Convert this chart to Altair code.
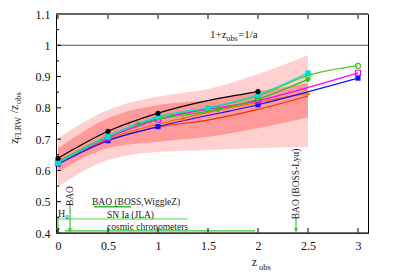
import altair as alt
import pandas as pd

# ---------------- data ----------------
band_x = [0, 0.5, 1, 1.5, 2, 2.5]
outer_lo = [0.548, 0.633, 0.659, 0.665, 0.672, 0.676]
outer_hi = [0.703, 0.793, 0.836, 0.860, 0.908, 0.968]
inner_lo = [0.596, 0.671, 0.692, 0.708, 0.735, 0.770]
inner_hi = [0.671, 0.767, 0.809, 0.825, 0.853, 0.879]

series = [
    # name, color, shape, filled, x, y
    ("red", "#ff2a00", None, True, [0, 0.5, 1, 1.5, 2, 2.5], [0.624, 0.697, 0.738, 0.761, 0.795, 0.838]),
    ("orange", "#ff6a00", "triangle-up", True, [0, 0.5, 1.25, 2.5], [0.630, 0.701, 0.767, 0.847]),
    ("blue", "#1010ff", "square", True, [0, 0.5, 1, 2, 3], [0.620, 0.695, 0.740, 0.810, 0.895]),
    ("magenta", "#ff00ff", "square", False, [0, 0.5, 1, 2, 3], [0.625, 0.705, 0.763, 0.823, 0.912]),
    ("green", "#22c322", "cross", True, [0, 0.5, 0.8, 1.6, 2, 2.5], [0.627, 0.710, 0.748, 0.795, 0.828, 0.891]),
    ("lime", "#44cc22", "circle", False, [0, 0.5, 1, 1.5, 2, 2.5, 3], [0.624, 0.707, 0.770, 0.799, 0.838, 0.904, 0.934]),
    ("cyan", "#00dede", "square", True, [0, 0.5, 1, 1.5, 2, 2.5], [0.625, 0.708, 0.772, 0.801, 0.842, 0.912]),
    ("black", "#000000", "circle", True, [0, 0.5, 1, 2], [0.639, 0.725, 0.783, 0.852]),
]

x_ticks = [0, 0.5, 1, 1.5, 2, 2.5, 3]
y_ticks = [0.4, 0.5, 0.6, 0.7, 0.8, 0.9, 1.0, 1.1]
y_minor = [0.45, 0.55, 0.65, 0.75, 0.85, 0.95, 1.05]

# probe annotations
range_labels = ["BAO (BOSS,WiggleZ)", "SN Ia (JLA)", "cosmic chronometers"]
range_x0 = [0.36, 0.0, 0.07]
range_x1 = [0.73, 1.30, 1.97]
range_y = [0.484, 0.445, 0.407]
range_col = ["#33bb33", "#a8eca8", "#33cc33"]
range_w = [1.6, 2.2, 1.2]
range_text_x = [0.34, 0.49, 0.49]
range_text_y = [0.488, 0.449, 0.409]

arrow_x = [0.0, 0.12, 2.38]
arrow_top = [0.452, 0.496, 0.448]
arrow_labels = ["H₀", "BAO", "BAO (BOSS-Lyα)"]
arrow_label_y = [0.462, 0.518, 0.557]

W, H = 312, 219
FONT = "Liberation Serif"
xs = alt.Scale(domain=[-0.02, 3.1], nice=False, zero=False)
ys = alt.Scale(domain=[0.4, 1.1], nice=False, zero=False)
xa = alt.Axis(values=x_ticks, format=".1~f", title=None, ticks=False, domain=False, grid=False,
              labelOverlap=False, labelPadding=7, labelFont=FONT, labelFontSize=12, labelColor="#111111")
ya = alt.Axis(values=y_ticks, format=".1~f", title=None, ticks=False, domain=False, grid=False,
              labelOverlap=False, labelPadding=6, labelFont=FONT, labelFontSize=12, labelColor="#111111")


def X(f):
    return alt.X(f, scale=xs, axis=xa)


def Y(f):
    return alt.Y(f, scale=ys, axis=ya)


bands = pd.DataFrame({"x": band_x, "olo": outer_lo, "ohi": outer_hi,
                      "ilo": inner_lo, "ihi": inner_hi})

outer = alt.Chart(bands).mark_area(color="#ffd0d0", interpolate="monotone").encode(
    x=X("x:Q"), y=Y("olo:Q"), y2="ohi:Q")
inner = alt.Chart(bands).mark_area(color="#ff9a9a", interpolate="monotone").encode(
    x=X("x:Q"), y=Y("ilo:Q"), y2="ihi:Q")

one = alt.Chart(pd.DataFrame({"y": [1.0]})).mark_rule(color="#555555", strokeWidth=1).encode(y=Y("y:Q"))

layers = [outer, inner, one]

for name, col, shape, filled, sx, sy in series:
    df = pd.DataFrame({"x": sx, "y": sy})
    layers.append(alt.Chart(df).mark_line(color=col, strokeWidth=1.2, interpolate="monotone").encode(
        x=X("x:Q"), y=Y("y:Q")))
for name, col, shape, filled, sx, sy in series:
    if shape is None:
        continue
    df = pd.DataFrame({"x": sx, "y": sy})
    if filled:
        m = alt.Chart(df).mark_point(shape=shape, filled=True, color=col, size=26, opacity=1)
    else:
        m = alt.Chart(df).mark_point(shape=shape, filled=False, color=col, size=26, strokeWidth=1.2, opacity=1)
    layers.append(m.encode(x=X("x:Q"), y=Y("y:Q")))

# range lines and labels
rdf = pd.DataFrame({"lab": range_labels, "x0": range_x0, "x1": range_x1, "y": range_y,
                    "tx": range_text_x, "ty": range_text_y})
for i in range(len(range_labels)):
    sub = rdf.iloc[[i]]
    layers.append(alt.Chart(sub).mark_rule(color=range_col[i], strokeWidth=range_w[i]).encode(
        x=X("x0:Q"), x2="x1:Q", y=Y("y:Q")))
layers.append(alt.Chart(rdf).mark_text(font=FONT, fontSize=9.5, align="left", baseline="alphabetic",
                                       color="#222222").encode(
    x=X("tx:Q"), y=Y("ty:Q"), text="lab:N"))

# arrows
adf = pd.DataFrame({"x": arrow_x, "top": arrow_top, "bot": [0.4] * 3, "lab": arrow_labels,
                    "ly": arrow_label_y})
layers.append(alt.Chart(adf).mark_rule(color="#33cc33", strokeWidth=1.2).encode(
    x=X("x:Q"), y=Y("top:Q"), y2="bot:Q"))
layers.append(alt.Chart(adf).mark_point(shape="triangle-down", filled=True, color="#33cc33", size=18,
                                        opacity=1, yOffset=-3).encode(x=X("x:Q"), y=Y("bot:Q")))
layers.append(alt.Chart(adf.iloc[[0]]).mark_text(font=FONT, fontSize=10, align="left", baseline="middle",
                                                 color="#222222").encode(
    x=X("x:Q"), y=Y("ly:Q"), text="lab:N"))
layers.append(alt.Chart(adf.iloc[[1, 2]]).mark_text(font=FONT, fontSize=9.5, align="center", baseline="middle",
                                                    angle=270, color="#222222").encode(
    x=X("x:Q"), y=Y("ly:Q"), text="lab:N"))

# 1+z_obs = 1/a label
lab = pd.DataFrame({"x": [1.52], "y": [1.024]})
layers.append(alt.Chart(lab).mark_text(font=FONT, fontSize=11, align="left", baseline="alphabetic",
                                       color="#222222", text="1+z").encode(x=X("x:Q"), y=Y("y:Q")))
layers.append(alt.Chart(lab).mark_text(font=FONT, fontSize=8, align="left", baseline="alphabetic",
                                       color="#222222", text="obs", dx=16.5, dy=3).encode(x=X("x:Q"), y=Y("y:Q")))
layers.append(alt.Chart(lab).mark_text(font=FONT, fontSize=11, align="left", baseline="alphabetic",
                                       color="#222222", text="=1/a", dx=28).encode(x=X("x:Q"), y=Y("y:Q")))

# inward ticks
xt = pd.DataFrame({"x": x_ticks})
layers.append(alt.Chart(xt).mark_rule(color="black", strokeWidth=1).encode(
    x=X("x:Q"), y=alt.value(H), y2=alt.value(H - 5)))
layers.append(alt.Chart(xt).mark_rule(color="black", strokeWidth=1).encode(
    x=X("x:Q"), y=alt.value(0), y2=alt.value(5)))
yt = pd.DataFrame({"y": y_ticks})
layers.append(alt.Chart(yt).mark_rule(color="black", strokeWidth=1).encode(
    y=Y("y:Q"), x=alt.value(0), x2=alt.value(5)))
ym = pd.DataFrame({"y": y_minor})
layers.append(alt.Chart(ym).mark_rule(color="black", strokeWidth=1).encode(
    y=Y("y:Q"), x=alt.value(0), x2=alt.value(3)))

# top / bottom borders (gray, thicker)
layers.append(alt.Chart(pd.DataFrame({"a": [0]})).mark_rule(color="#666666", strokeWidth=2).encode(
    x=alt.value(0), x2=alt.value(W), y=alt.value(0)))
layers.append(alt.Chart(pd.DataFrame({"a": [0]})).mark_rule(color="#444444", strokeWidth=1.6).encode(
    x=alt.value(0), x2=alt.value(W), y=alt.value(H)))


# axis titles with subscripts
def txt(s, x, y, size, angle=0):
    kw = dict(font=FONT, fontSize=size, align="center", baseline="middle", color="#222222", text=s)
    if angle:
        kw["angle"] = angle
    return alt.Chart(pd.DataFrame({"a": [0]})).mark_text(**kw).encode(x=alt.value(x), y=alt.value(y))


layers += [
    txt("z", 198.5, 247.5, 12),
    txt("obs", 209, 252.5, 8.5),
    txt("z", -42.5, 127, 12, 270),
    txt("FLRW", -38.5, 114.5, 8.5, 270),
    txt("/z", -42.5, 95, 12, 270),
    txt("obs", -38.5, 84, 8.5, 270),
]

chart = alt.layer(*layers).properties(
    width=W, height=H,
    autosize=alt.AutoSizeParams(type="none"),
    padding={"left": 48, "top": 6, "right": 39, "bottom": 40},
).configure_view(stroke="black", strokeWidth=1)

chart.save("out.html", embed_options={"renderer": "svg", "actions": False})
